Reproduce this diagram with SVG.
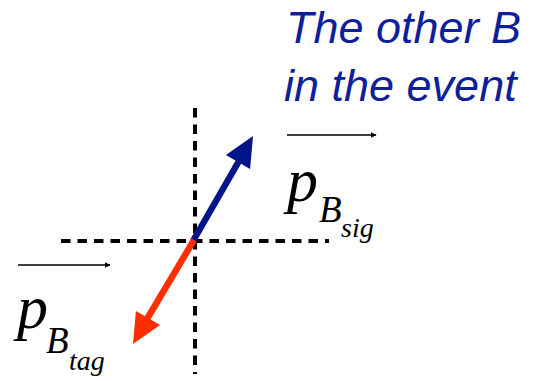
<svg xmlns="http://www.w3.org/2000/svg" width="538" height="382" viewBox="0 0 538 382">
<style>
.title{font-family:"Liberation Sans",Arial,sans-serif;font-style:italic;font-size:45px;fill:#0f1f9a}
.math{font-family:"Liberation Serif","Times New Roman",serif;font-style:italic;fill:#000}
.axis{stroke:#000;stroke-width:4;stroke-dasharray:9.5 7;fill:none}
.vec{stroke:#000;stroke-width:1.6;fill:none;marker-end:url(#vh)}
</style>
<defs>
<marker id="vh" viewBox="0 0 10 10" refX="9" refY="5" markerWidth="6" markerHeight="6" markerUnits="userSpaceOnUse" orient="auto">
<path d="M0,0 L10,5 L0,10 z" fill="#000"/>
</marker>
</defs>
<rect width="538" height="382" fill="#fff"/>
<g id="title">
<text class="title" x="286" y="43">The other B</text>
<text class="title" x="284" y="101">in the event</text>
</g>
<g id="axes">
<line class="axis" x1="195" y1="108" x2="195" y2="374"/>
<line class="axis" x1="61" y1="241" x2="329" y2="241"/>
</g>
<g id="connectors">
<g id="sig-arrow">
<line x1="193" y1="241" x2="239" y2="161" stroke="#02148a" stroke-width="6.5"/>
<polygon points="253,136 250.1,169 225.9,155" fill="#02148a"/>
</g>
<g id="tag-arrow">
<line x1="194" y1="240" x2="147" y2="319" stroke="#ff2e00" stroke-width="6.5"/>
<polygon points="133,344 160.1,325 135.9,311" fill="#ff2e00"/>
</g>
</g>
<g id="p-sig">
<line class="vec" x1="287" y1="135" x2="376" y2="135"/>
<text class="math" x="287" y="201" font-size="62">p</text>
<text class="math" x="319" y="222" font-size="37">B</text>
<text class="math" x="341" y="237" font-size="28">sig</text>
</g>
<g id="p-tag">
<line class="vec" x1="18" y1="265" x2="110" y2="265"/>
<text class="math" x="17" y="328" font-size="62">p</text>
<text class="math" x="46" y="353" font-size="37">B</text>
<text class="math" x="69" y="370" font-size="28">tag</text>
</g>
</svg>
